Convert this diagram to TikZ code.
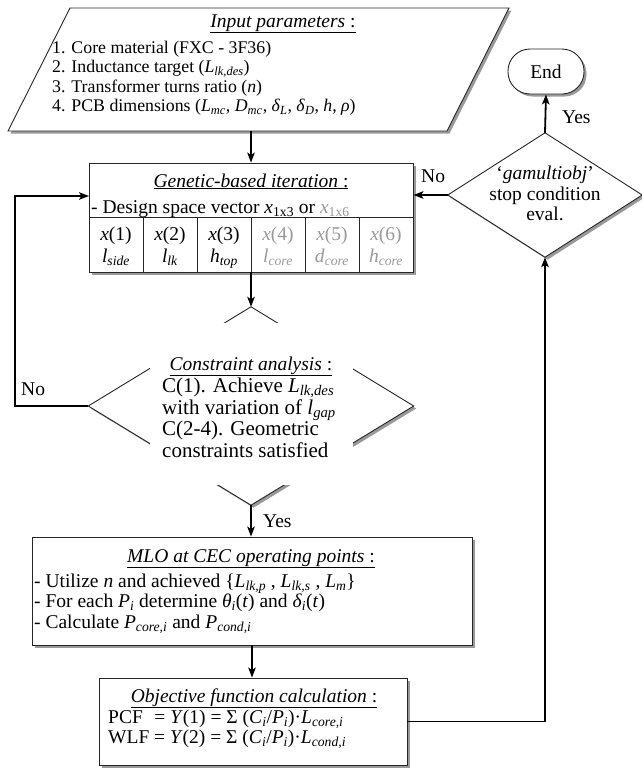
\documentclass[tikz,border=0pt]{standalone}
\usepackage{fontspec}
\setmainfont{Liberation Serif}
\usetikzlibrary{arrows.meta,shadows}
\newcommand{\iv}[1]{\textit{#1}}
\newcommand{\sbs}[1]{\textsubscript{\textit{#1}}}
\definecolor{lgray}{gray}{0.6}
\tikzset{
 shad/.style={drop shadow={shadow xshift=2.5pt, shadow yshift=-2.5pt, fill=black!50, opacity=0.8}},
 box/.style={draw=black!85, line width=0.9pt, fill=white, shad},
 txt/.style={inner sep=0pt, text height=13pt, text depth=4pt, font=\fontsize{19.5}{20}\selectfont},
 itxt/.style={inner sep=0pt, text height=12pt, text depth=3.5pt, font=\fontsize{17.8}{19}\selectfont},
 ctxt/.style={inner sep=0pt, text height=14pt, text depth=5pt, font=\fontsize{21}{22}\selectfont},
 conn/.style={line width=1.8pt, -{Stealth[length=10pt,width=7.5pt,inset=2.5pt]}},
 inner/.style={draw=black!85, line width=0.9pt},
}
\begin{document}
\begin{tikzpicture}[x=1pt,y=-1pt]
\path[use as bounding box] (0,0) rectangle (642,769);
% input parallelogram
\coordinate (pA) at (70,8);
\coordinate (pB) at (509,8);
\coordinate (pC) at (447,131);
\coordinate (pD) at (8,131);
\coordinate (pbot) at (251,131);
\path[box] (pA)--(pB)--(pC)--(pD)--cycle;
\node[txt, anchor=base] (inhead) at (283,27) {\underline{\textit{Input parameters} :}};
\node[itxt, anchor=base west] (in1) at (52,53.5) {1. Core material (FXC - 3F36)};
\node[itxt, anchor=base west] (in2) at (52,72.8) {2. Inductance target (\iv{L}\sbs{lk,des})};
\node[itxt, anchor=base west] (in3) at (52,92.2) {3. Transformer turns ratio (\iv{n})};
\node[itxt, anchor=base west] (in4) at (52,111.5) {4. PCB dimensions (\iv{L}\sbs{mc}, \iv{D}\sbs{mc}, \iv{δ}\sbs{L}, \iv{δ}\sbs{D}, \iv{h}, \iv{ρ})};
% genetic box
\node[box, minimum width=324pt, minimum height=109pt, inner sep=0pt] (gen) at (251,217.5) {};
\draw[inner] (89,217) -- (413,217);
\foreach \k in {1,...,5} { \draw[inner] ({89+54*\k},217) -- ({89+54*\k},272); }
\node[txt, anchor=base] (genhead) at (251,187) {\underline{\textit{Genetic-based iteration} :}};
\node[txt, anchor=base west] (genvec) at (91,213) {- Design space vector \iv{x}\textsubscript{1x3} or {\color{lgray}\iv{x}\textsubscript{1x6}}};
\node[txt, anchor=base] (c1) at (116,240) {\iv{x}(1)};
\node[txt, anchor=base] (c2) at (170,240) {\iv{x}(2)};
\node[txt, anchor=base] (c3) at (224,240) {\iv{x}(3)};
\node[txt, anchor=base, lgray] (c4) at (278,240) {\iv{x}(4)};
\node[txt, anchor=base, lgray] (c5) at (332,240) {\iv{x}(5)};
\node[txt, anchor=base, lgray] (c6) at (386,240) {\iv{x}(6)};
\node[txt, anchor=base] (v1) at (116,262) {\iv{l}\sbs{side}};
\node[txt, anchor=base] (v2) at (170,262) {\iv{l}\sbs{lk}};
\node[txt, anchor=base] (v3) at (224,262) {\iv{h}\sbs{top}};
\node[txt, anchor=base, lgray] (v4) at (278,262) {\iv{l}\sbs{core}};
\node[txt, anchor=base, lgray] (v5) at (332,262) {\iv{d}\sbs{core}};
\node[txt, anchor=base, lgray] (v6) at (386,262) {\iv{h}\sbs{core}};
% constraint diamond
\node[minimum width=325pt, minimum height=198pt, inner sep=0pt] (cons) at (251,406) {};
\path[box] (cons.north)--(cons.east)--(cons.south)--(cons.west)--cycle;
\node[fill=white, minimum width=203pt, minimum height=162pt, inner sep=0pt] (consbox) at (251,404) {};
\node[txt, anchor=base] (conshead) at (251,370) {\underline{\textit{Constraint analysis} :}};
\node[ctxt, anchor=base west] (cons1) at (162,392) {C(1). Achieve \iv{L}\sbs{lk,des}};
\node[ctxt, anchor=base west] (cons2) at (162,414) {with variation of \iv{l}\sbs{gap}};
\node[ctxt, anchor=base west] (cons3) at (162,435) {C(2-4). Geometric};
\node[ctxt, anchor=base west] (cons4) at (162,457) {constraints satisfied};
% MLO box
\node[box, minimum width=440pt, minimum height=108pt, inner sep=0pt] (mlo) at (252,591) {};
\node[txt, anchor=base] (mlohead) at (251,562) {\underline{\textit{MLO at CEC operating points} :}};
\node[txt, anchor=base west] (mlo1) at (34,587) {- Utilize \iv{n} and achieved \{\iv{L}\sbs{lk,p} , \iv{L}\sbs{lk,s} , \iv{L}\sbs{m}\}};
\node[txt, anchor=base west] (mlo2) at (34,607) {- For each \iv{P}\sbs{i} determine \iv{θ}\sbs{i}(\iv{t}) and \iv{δ}\sbs{i}(\iv{t})};
\node[txt, anchor=base west] (mlo3) at (34,628) {- Calculate \iv{P}\sbs{core,i} and \iv{P}\sbs{cond,i}};
% objective box
\node[box, minimum width=308pt, minimum height=87pt, inner sep=0pt] (obj) at (253,721.5) {};
\node[txt, anchor=base] (objhead) at (254,702) {\underline{\textit{Objective function calculation} :}};
\node[txt, anchor=base west] (obj1) at (108,723) {PCF\hphantom{W}\hspace{-0.6em} = \iv{Y}(1) = Σ (\iv{C}\sbs{i}/\iv{P}\sbs{i})·\iv{L}\sbs{core,i}};
\node[txt, anchor=base west] (obj2) at (108,743) {WLF = \iv{Y}(2) = Σ (\iv{C}\sbs{i}/\iv{P}\sbs{i})·\iv{L}\sbs{cond,i}};
% stop diamond
\node[minimum width=194pt, minimum height=124pt, inner sep=0pt] (stop) at (545,195) {};
\path[box] (stop.north)--(stop.east)--(stop.south)--(stop.west)--cycle;
\node[txt, anchor=base] (stop1) at (545,179) {‘\iv{gamultiobj}’};
\node[txt, anchor=base] (stop2) at (545,200) {stop condition};
\node[txt, anchor=base] (stop3) at (545,220) {eval.};
% end
\node[box, rounded corners=22pt, minimum width=76pt, minimum height=45pt, inner sep=0pt, font=\fontsize{19.5}{20}\selectfont] (end) at (546,71.5) {End};
% connectors
\coordinate (genin) at (89,196);
\coordinate (lp) at (15,196);
\draw[conn] (pbot) -- (pbot |- gen.north);
\draw[conn] (gen.south) -- (cons.north);
\draw[conn] (cons.south) -- (cons.south |- mlo.north);
\draw[conn] (mlo.south) -- (mlo.south |- obj.north);
\draw[conn] (obj.east) -| (stop.south);
\draw[conn] (stop.west) -- (gen.east |- stop.west);
\draw[conn] (stop.north) -- (end.south);
\draw[conn] (cons.west) -| (lp) -- (genin);
% labels
\node[txt, anchor=base west] (lno1) at (21,395) {No};
\node[txt, anchor=base west] (lyes1) at (263,527) {Yes};
\node[txt, anchor=base west] (lno2) at (421,182) {No};
\node[txt, anchor=base west] (lyes2) at (562,123) {Yes};
\end{tikzpicture}
\end{document}
